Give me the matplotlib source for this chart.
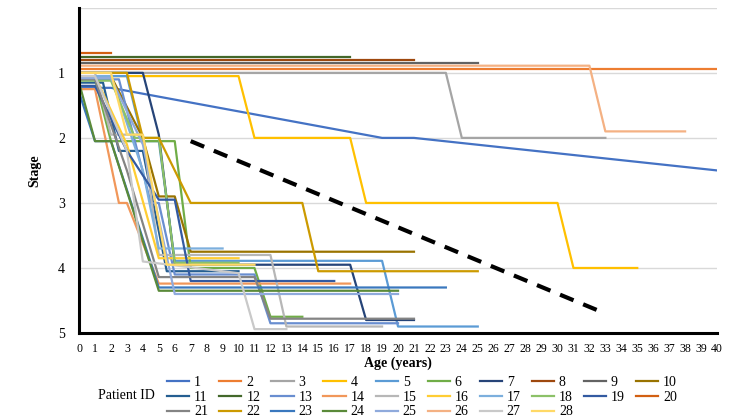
import matplotlib
matplotlib.use("Agg")
import matplotlib.pyplot as plt

plt.rcParams['font.family'] = ['Liberation Serif', 'DejaVu Serif']

# Edad (años) y estadio de cada paciente
pacientes = list(range(1, 29))

edades = {
    1: [0, 2, 19, 21, 40],
    2: [0, 40],
    3: [0, 23, 24, 33],
    4: [0, 10, 11, 17, 18, 30, 31, 35],
    5: [0, 3, 4, 5, 6, 19, 20, 25],
    6: [0, 1, 2, 6, 7, 11, 12, 14],
    7: [0, 4, 5, 6, 17, 18, 21],
    8: [0, 21],
    9: [0, 25],
    10: [0, 2, 4, 5, 6, 7, 21],
    11: [0, 1.5, 2.5, 4, 5.5, 10],
    12: [0, 17],
    13: [0, 2.5, 4.5, 5, 6, 11, 12, 20],
    14: [0, 1, 2.5, 3, 5, 17],
    15: [0, 1, 2, 4, 5, 12, 13, 19],
    16: [0, 1, 3, 5, 10],
    17: [0, 2, 4, 5, 9],
    18: [0, 2, 3.5, 5, 6, 10],
    19: [0, 1, 3, 5, 6, 7, 16],
    20: [0, 2],
    21: [0, 1, 3, 5, 11, 12, 21],
    22: [0, 3, 4, 5, 7, 14, 15, 25],
    23: [0, 1, 2, 5, 23],
    24: [0, 1, 2, 5, 20],
    25: [0, 2, 4, 6, 20],
    26: [0, 32, 33, 38],
    27: [0, 1, 3, 4, 10, 11, 13],
    28: [0, 2, 3, 4, 5.5, 11],
}

estadios = {
    1: [1.23, 1.23, 2.0, 2.0, 2.5],
    2: [0.94, 0.94],
    3: [1.0, 1.0, 2.0, 2.0],
    4: [1.05, 1.05, 2.0, 2.0, 3.0, 3.0, 4.0, 4.0],
    5: [1.05, 1.05, 2.05, 2.05, 3.89, 3.89, 4.9, 4.9],
    6: [1.1, 1.1, 2.05, 2.05, 4.0, 4.0, 4.75, 4.75],
    7: [1.0, 1.0, 1.95, 3.95, 3.95, 4.8, 4.8],
    8: [0.80, 0.80],
    9: [0.85, 0.85],
    10: [1.05, 1.05, 2.0, 2.9, 2.9, 3.75, 3.75],
    11: [1.15, 1.15, 2.2, 2.2, 4.05, 4.05],
    12: [0.75, 0.75],
    13: [1.1, 1.1, 3.0, 3.0, 4.1, 4.1, 4.85, 4.85],
    14: [1.25, 1.25, 3.0, 3.0, 4.24, 4.24],
    15: [1.0, 1.0, 1.95, 1.95, 3.8, 3.8, 4.9, 4.9],
    16: [1.05, 1.05, 2.1, 3.85, 3.85],
    17: [1.05, 1.05, 2.5, 3.7, 3.7],
    18: [1.12, 1.12, 2.0, 2.0, 3.92, 3.92],
    19: [1.2, 1.2, 2.2, 2.95, 2.95, 4.2, 4.2],
    20: [0.69, 0.69],
    21: [1.1, 1.1, 2.5, 4.14, 4.14, 4.78, 4.78],
    22: [1.0, 1.0, 2.0, 2.0, 3.0, 3.0, 4.05, 4.05],
    23: [1.3, 2.05, 2.05, 4.3, 4.3],
    24: [1.15, 2.05, 2.05, 4.35, 4.35],
    25: [1.08, 1.08, 2.1, 4.4, 4.4],
    26: [0.89, 0.89, 1.9, 1.9],
    27: [1.05, 1.05, 2.2, 3.9, 4.08, 4.94, 4.94],
    28: [1.0, 1.0, 1.95, 1.95, 3.95, 3.95],
}

colores = ['#4472C4', '#ED7D31', '#A5A5A5', '#FFC000', '#5B9BD5', '#70AD47',
           '#264478', '#9E480E', '#636363', '#997300', '#255E91', '#43682B',
           '#698ED0', '#F1975A', '#B7B7B7', '#FFCD33', '#7CAFDD', '#8CC168',
           '#335AA1', '#D26012', '#848484', '#CC9A00', '#3A78BE', '#5A8A39',
           '#8FAADC', '#F4B183', '#C9C9C9', '#FFD966']

# Tendencia (línea discontinua)
tend_x = [7, 33]
tend_y = [2.05, 4.7]

fig = plt.figure(figsize=(7.32, 4.18), dpi=100)
ax = fig.add_axes([0.108, 0.2033, 0.8715, 0.778])

lineas = []
for p, c in zip(pacientes, colores):
    l, = ax.plot(edades[p], estadios[p], color=c, lw=1.6, label=str(p))
    lineas.append(l)

ax.plot(tend_x, tend_y, color='black', lw=3, linestyle=(0, (3.5, 2.5)))

ax.set_xlim(0, 40)
ax.set_ylim(5, 0)
ax.set_xticks(range(0, 41))
ax.set_yticks([0, 1, 2, 3, 4, 5])
ax.set_yticklabels(['', '1', '2', '3', '4', '5'])
ax.tick_params(axis='x', length=0, labelsize=8.5, pad=7)
ax.tick_params(axis='y', length=0, labelsize=10, pad=10)
ax.grid(axis='y', color='#D9D9D9', lw=1)
ax.set_axisbelow(True)
for s in ['top', 'right']:
    ax.spines[s].set_visible(False)
for s in ['left', 'bottom']:
    ax.spines[s].set_linewidth(2.2)
    ax.spines[s].set_color('black')

ax.set_xlabel('Age (years)', fontsize=10, fontweight='bold', labelpad=1)
ax.set_ylabel('Stage', fontsize=10, fontweight='bold', labelpad=12)

# leyenda ordenada por filas (10 columnas)
orden = []
for j in range(10):
    for r in range(3):
        k = j + 10 * r
        if k < 28:
            orden.append(k)
leg = fig.legend([lineas[k] for k in orden], [str(k + 1) for k in orden],
                 ncol=10, loc='upper left', bbox_to_anchor=(0.2186, 0.117),
                 frameon=False, fontsize=10, handlelength=1.6,
                 handletextpad=0.35, columnspacing=0.8, labelspacing=0.12,
                 borderpad=0)
fig.text(0.134, 0.055, 'Patient ID', fontsize=10, va='center')

fig.savefig('out.png', dpi=100)
